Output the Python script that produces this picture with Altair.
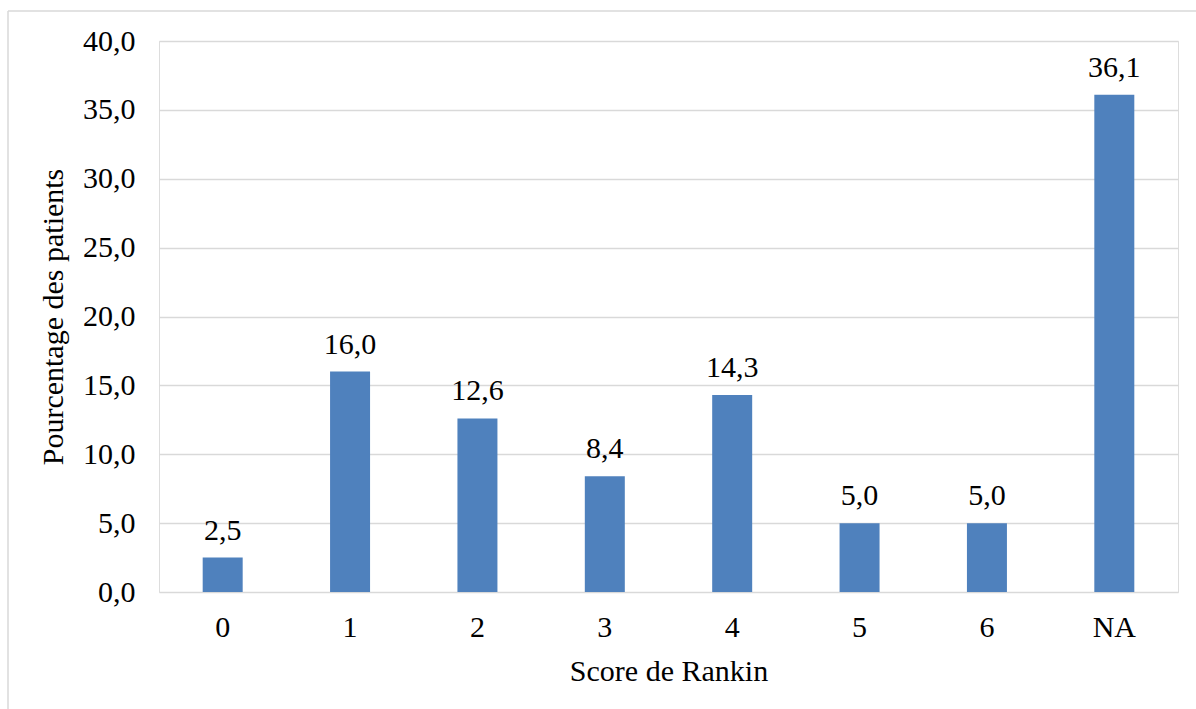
import altair as alt
import pandas as pd

# Modified Rankin score distribution
scores = ["0", "1", "2", "3", "4", "5", "6", "NA"]
percentages = [2.5, 16.0, 12.6, 8.4, 14.3, 5.0, 5.0, 36.1]
y_ticks = [0, 5, 10, 15, 20, 25, 30, 35, 40]

df = pd.DataFrame({"score": scores, "pct": percentages})

FONT = "Times New Roman, Liberation Serif, serif"
FS = 30
BAR = "#4F81BD"
GRID = "#D9D9D9"

x_enc = alt.X(
    "score:N",
    sort=None,
    title="Score de Rankin",
    scale=alt.Scale(paddingInner=0.686, paddingOuter=0.343),
    axis=alt.Axis(
        labelAngle=0,
        labelFontSize=FS,
        labelFont=FONT,
        labelColor="#000000",
        labelPadding=20,
        ticks=False,
        domain=False,
        titleFontSize=FS,
        titleFont=FONT,
        titleFontWeight="normal",
        titleColor="#000000",
        titlePadding=14,
    ),
)

y_enc = alt.Y(
    "pct:Q",
    title="Pourcentage des patients",
    scale=alt.Scale(domain=[0, 40], nice=False),
    axis=alt.Axis(
        values=y_ticks,
        labelExpr="replace(format(datum.value, '.1f'), '.', ',')",
        labelFontSize=FS,
        labelFont=FONT,
        labelColor="#000000",
        labelPadding=24,
        ticks=False,
        domain=False,
        grid=True,
        gridColor=GRID,
        gridWidth=1.5,
        titleFontSize=FS,
        titleFont=FONT,
        titleFontWeight="normal",
        titleColor="#000000",
        titlePadding=14,
    ),
)

base = alt.Chart(df)

bars = base.mark_bar(color=BAR).encode(x=x_enc, y=y_enc)

labels = (
    base.transform_calculate(label="replace(format(datum.pct, '.1f'), '.', ',')")
    .mark_text(font=FONT, fontSize=FS, color="#000000", baseline="alphabetic", dy=-18)
    .encode(x=alt.X("score:N", sort=None), y="pct:Q", text="label:N")
)

# Outer frame of the chart (top and left edges)
frame_df = pd.DataFrame({"k": [0]})
frame_top = alt.Chart(frame_df).mark_rule(color=GRID, strokeWidth=1.5).encode(
    x=alt.value(-151), x2=alt.value(1060), y=alt.value(-30)
)
frame_left = alt.Chart(frame_df).mark_rule(color=GRID, strokeWidth=1.5).encode(
    x=alt.value(-151), y=alt.value(-30), y2=alt.value(700)
)

chart = (
    alt.layer(bars, labels, frame_top, frame_left)
    .properties(
        width=1019,
        height=551,
        autosize=alt.AutoSizeParams(type="none"),
        padding={"left": 159, "top": 41, "right": 18, "bottom": 117},
    )
    .configure_view(stroke=None)
    .configure(background="#FFFFFF")
)

chart.save("out.html", embed_options={"renderer": "svg", "actions": False})
